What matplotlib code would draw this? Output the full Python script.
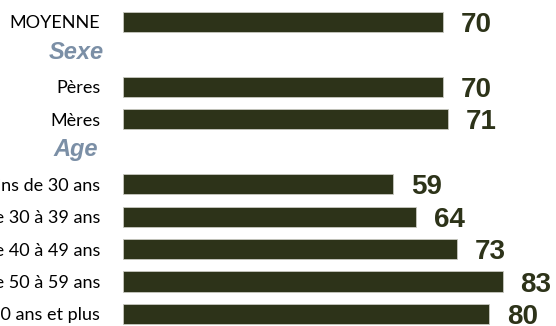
import matplotlib
matplotlib.use("Agg")
import matplotlib.pyplot as plt

# rows from top to bottom; header rows carry no value
labels = ["MOYENNE", "Sexe", "Pères", "Mères", "Age",
          "Moins de 30 ans", "De 30 à 39 ans", "De 40 à 49 ans",
          "De 50 à 59 ans", "60 ans et plus"]
values = [70, None, 70, 71, None, 59, 64, 73, 83, 80]
headers = ["Sexe", "Age"]

BAR = "#2d3319"
HEAD = "#7b8fa6"

fig = plt.figure(figsize=(5.56, 3.26), dpi=100)
ax = fig.add_axes((123 / 556, 0, 433 / 556, 1))
ax.set_xlim(0, 433 / 4.575)
ax.set_ylim(9.37, -0.678)
ax.axis("off")

for i, (lab, val) in enumerate(zip(labels, values)):
    if lab in headers:
        ax.text(-10.3, i - 0.15, lab, ha="center", va="center_baseline", fontsize=17,
                fontweight="bold", fontstyle="italic", color=HEAD,
                family="Liberation Sans", clip_on=False)
        continue
    ax.barh(i, val, height=0.62, color=BAR, edgecolor="#c8c8c0", linewidth=0.6)
    ax.text(val + 3.9, i, str(val), ha="left", va="center_baseline", fontsize=20,
            fontweight="bold", color=BAR, family="Liberation Sans", clip_on=False)
    ax.text(-5.0, i, lab, ha="right", va="center_baseline", fontsize=13,
            color="black", family="Lato", clip_on=False)

fig.savefig("out.png", dpi=100)
